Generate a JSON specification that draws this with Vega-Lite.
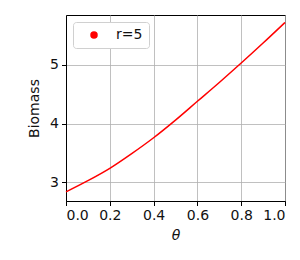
{
  "$schema": "https://vega.github.io/schema/vega-lite/v6.json",
  "width": 219,
  "height": 186,
  "autosize": "none",
  "padding": {"left": 66, "top": 15, "right": 15, "bottom": 59},
  "background": "white",
  "config": {
    "view": {"stroke": "black", "strokeWidth": 1},
    "axis": {
      "labelFont": "DejaVu Sans",
      "labelFontSize": 14,
      "labelColor": "#111",
      "titleFont": "DejaVu Sans",
      "titleFontSize": 14,
      "titleFontWeight": "normal",
      "titleColor": "#111",
      "domainColor": "black",
      "tickColor": "black",
      "tickSize": 4.5,
      "labelPadding": 3,
      "gridColor": "#b0b0b0",
      "gridWidth": 0.8
    }
  },
  "data": {
    "values": [
      {"theta": 0.0, "biomass": 2.84},
      {"theta": 0.1, "biomass": 3.03},
      {"theta": 0.2, "biomass": 3.24},
      {"theta": 0.3, "biomass": 3.49},
      {"theta": 0.4, "biomass": 3.76},
      {"theta": 0.5, "biomass": 4.06},
      {"theta": 0.6, "biomass": 4.38},
      {"theta": 0.7, "biomass": 4.70},
      {"theta": 0.8, "biomass": 5.03},
      {"theta": 0.9, "biomass": 5.37},
      {"theta": 1.0, "biomass": 5.72}
    ]
  },
  "mark": {"type": "line", "interpolate": "monotone", "strokeWidth": 1.5},
  "encoding": {
    "x": {
      "field": "theta", "type": "quantitative",
      "scale": {"domain": [0, 1], "nice": false, "zero": false},
      "axis": {"values": [0, 0.2, 0.4, 0.6, 0.8, 1.0], "format": ".1f", "title": "θ", "titleFontStyle": "italic", "titlePadding": 6}
    },
    "y": {
      "field": "biomass", "type": "quantitative",
      "scale": {"domain": [2.685, 5.847], "nice": false, "zero": false},
      "axis": {"values": [3, 4, 5], "format": "d", "title": "Biomass", "titlePadding": 8}
    },
    "color": {
      "datum": "r=5",
      "scale": {"range": ["red"]},
      "legend": {
        "title": null,
        "orient": "none",
        "legendX": 7,
        "legendY": 7,
        "symbolType": "circle",
        "symbolSize": 36,
        "symbolOffset": 8,
        "labelFont": "DejaVu Sans",
        "labelFontSize": 14,
        "labelColor": "#111",
        "labelOffset": 15,
        "padding": 6,
        "fillColor": "white",
        "strokeColor": "#d0d0d0",
        "cornerRadius": 3,
        "encode": {
          "symbols": {"update": {"fill": {"value": "red"}, "stroke": {"value": "transparent"}}}
        }
      }
    }
  }
}
